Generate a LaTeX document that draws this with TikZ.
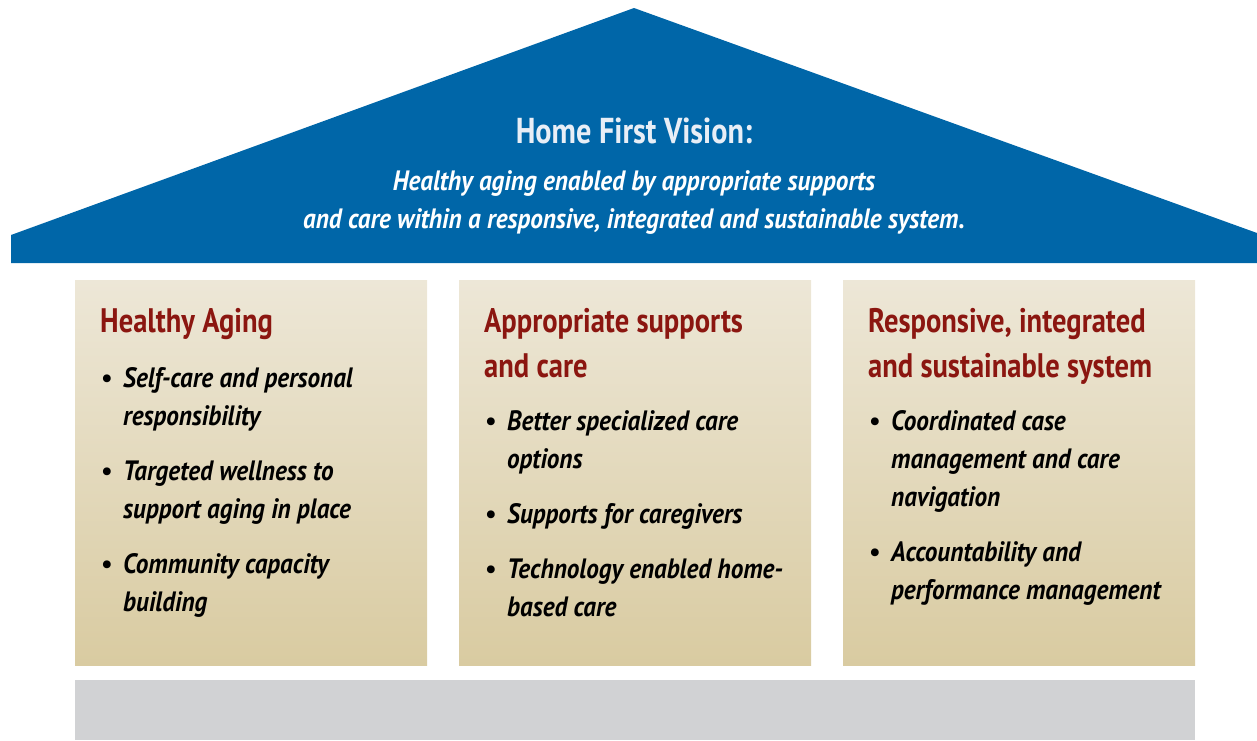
\documentclass[tikz,border=0pt]{standalone}
\usepackage{fontspec}
\setmainfont{PT Sans}
\newfontfamily\titlefont{PT Sans}[FakeStretch=0.84]
\newfontfamily\itfont{PT Sans}[FakeStretch=0.90]
\definecolor{roofblue}{RGB}{0,102,168}
\definecolor{rooftxt}{RGB}{232,238,246}
\definecolor{coltop}{RGB}{237,231,215}
\definecolor{colbot}{RGB}{217,203,161}
\definecolor{barcol}{RGB}{209,210,212}
\definecolor{myred}{RGB}{139,22,16}
\tikzset{
  coltitle/.style={anchor=base west, inner sep=0pt, text=myred, font=\titlefont\fontsize{34}{40}\selectfont\bfseries},
  bultext/.style={anchor=base west, inner sep=0pt, font=\itfont\fontsize{28}{34}\selectfont\bfseries\itshape},
  buldot/.style={anchor=base, inner sep=0pt, font=\fontsize{28}{34}\selectfont},
  rooftitle/.style={anchor=base, inner sep=0pt, text=rooftxt, font=\titlefont\fontsize{36}{40}\selectfont\bfseries},
  roofline/.style={anchor=base, inner sep=0pt, text=white, font=\itfont\fontsize{28}{34}\selectfont\bfseries\itshape},
  colbox/.style={top color=coltop, bottom color=colbot, draw=none},
}
\begin{document}
\begin{tikzpicture}[x=1pt,y=-1pt]
\useasboundingbox (0,0) rectangle (1257,740);
% roof
\fill[roofblue] (11,263) -- (11,235) -- (634,8) -- (1257,233) -- (1257,263) -- cycle;
\node[rooftitle] (vt) at (634,143) {Home First Vision:};
\node[roofline] (v1) at (634,190) {Healthy aging enabled by appropriate supports};
\node[roofline] (v2) at (634,228) {and care within a responsive, integrated and sustainable system.};
% columns
\shade[colbox] (75,280) rectangle (427,665);
\shade[colbox] (459,280) rectangle (811,665);
\shade[colbox] (843,280) rectangle (1195,665);
\fill[barcol] (75,680) rectangle (1195,740);
% column 1
\node[coltitle] (t1) at (100,332) {Healthy Aging};
\node[buldot] (d11) at (107,387) {•};
\node[bultext] (b11a) at (123,387) {Self-care and personal};
\node[bultext] (b11b) at (123,425) {responsibility};
\node[buldot] (d12) at (107,480) {•};
\node[bultext] (b12a) at (123,480) {Targeted wellness to};
\node[bultext] (b12b) at (123,518) {support aging in place};
\node[buldot] (d13) at (107,573) {•};
\node[bultext] (b13a) at (123,573) {Community capacity};
\node[bultext] (b13b) at (123,611) {building};
% column 2
\node[coltitle] (t2a) at (484,332) {Appropriate supports};
\node[coltitle] (t2b) at (484,377) {and care};
\node[buldot] (d21) at (491,430) {•};
\node[bultext] (b21a) at (507,430) {Better specialized care};
\node[bultext] (b21b) at (507,468) {options};
\node[buldot] (d22) at (491,523) {•};
\node[bultext] (b22a) at (507,523) {Supports for caregivers};
\node[buldot] (d23) at (491,578) {•};
\node[bultext] (b23a) at (507,578) {Technology enabled home-};
\node[bultext] (b23b) at (507,616) {based care};
% column 3
\node[coltitle] (t3a) at (868,332) {Responsive, integrated};
\node[coltitle] (t3b) at (868,377) {and sustainable system};
\node[buldot] (d31) at (875,430) {•};
\node[bultext] (b31a) at (891,430) {Coordinated case};
\node[bultext] (b31b) at (891,468) {management and care};
\node[bultext] (b31c) at (891,506) {navigation};
\node[buldot] (d32) at (875,561) {•};
\node[bultext] (b32a) at (891,561) {Accountability and};
\node[bultext] (b32b) at (891,599) {performance management};
\end{tikzpicture}
\end{document}
